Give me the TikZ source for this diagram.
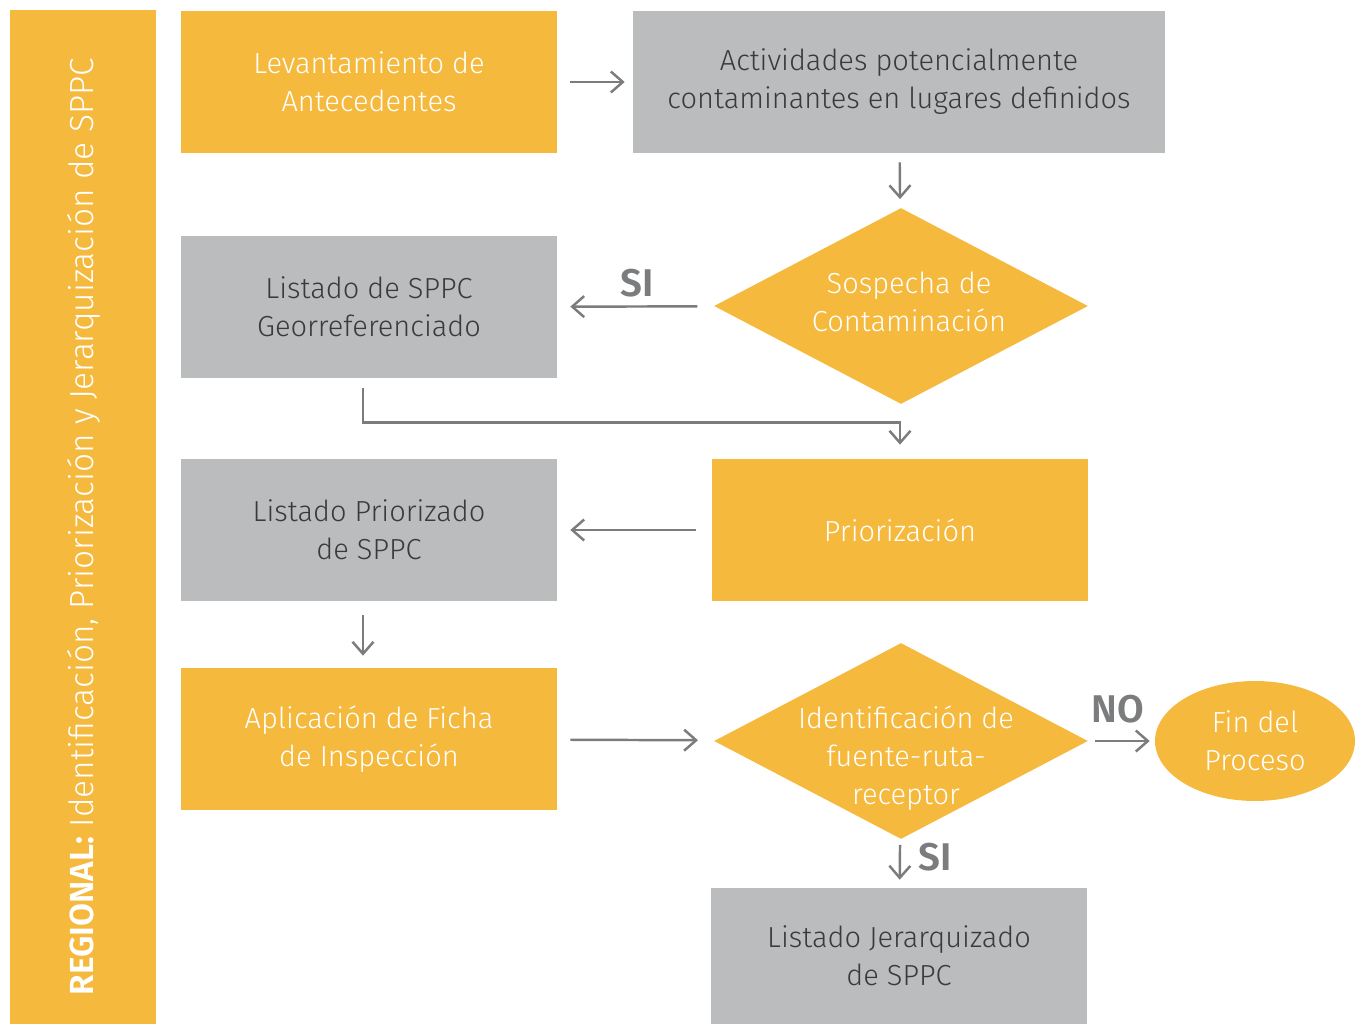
\documentclass[tikz,border=0pt]{standalone}
\usepackage{fontspec}
\setmainfont{Fira Sans}[UprightFont=* Light,BoldFont=* SemiBold]
\usetikzlibrary{shapes.geometric}
\usetikzlibrary{arrows.meta}
\definecolor{ambar}{HTML}{F4B93D}
\definecolor{gris}{HTML}{BBBCBE}
\definecolor{flecha}{HTML}{7A7C7D}
\definecolor{texto}{HTML}{3A3A3A}

\begin{document}
\begin{tikzpicture}[x=0.02cm,y=-0.02cm]
  \useasboundingbox (0,0) rectangle (1356,1024);
  \tikzstyle{every node}=[align=center,inner sep=0pt,font=\fontsize{16.5}{21.6}\selectfont]
  \tikzstyle{yellowbox}=[rectangle,fill=ambar,text=white,minimum width=7.52cm,minimum height=2.84cm]
  \tikzstyle{greybox}=[rectangle,fill=gris,text=texto,minimum width=7.52cm,minimum height=2.84cm]
  \tikzstyle{decision}=[diamond,aspect=1.9,fill=ambar,minimum width=7.48cm,minimum height=3.92cm]
  \tikzstyle{flow}=[flecha,line width=1.4pt,-{Straight Barb[length=0.24cm,width=0.42cm]}]
  \tikzstyle{answer}=[text=flecha,font=\fontsize{22}{22}\selectfont\bfseries]

%% left band
  \node[rectangle,fill=ambar,minimum width=2.92cm,minimum height=20.28cm] (band) at (83,517) {};
  \node[rotate=90,text=white,font=\fontsize{19}{19}\selectfont] (bandtxt) at (84,527)
    {\textbf{REGIONAL:} Identificación, Priorización y Jerarquización de SPPC};

%% process nodes
  \node[yellowbox] (lev)       at (369,82)  {Levantamiento de\\Antecedentes};
  \node[greybox,minimum width=10.64cm] (act) at (899,82) {Actividades potencialmente\\contaminantes en lugares definidos};
  \node[decision]  (sospecha)  at (901,306) {};
  \node[text=white] (sospechatxt) at (909,302) {Sospecha de\\Contaminación};
  \node[greybox]   (listgeo)   at (369,307) {Listado de SPPC\\Georreferenciado};
  \node[yellowbox] (prior)     at (900,530) {Priorización};
  \node[greybox]   (listprior) at (369,530) {Listado Priorizado\\de SPPC};
  \node[yellowbox] (ficha)     at (369,739) {Aplicación de Ficha\\de Inspección};
  \node[decision]  (ident)     at (901,741) {};
  \node[text=white] (identtxt) at (906,758) {Identificación de\\fuente-ruta-\\receptor};
  \node[ellipse,fill=ambar,text=white,minimum width=4cm,minimum height=2.4cm] (fin) at (1255,741) {Fin del\\Proceso};
  \node[greybox,minimum height=2.72cm] (listjer) at (899,956) {Listado Jerarquizado\\de SPPC};

%% connections (gaps in px)
  \foreach \a/\b/\s/\e in {lev/act/13/8, sospecha/listgeo/17/13, prior/listprior/16/13,
                           ficha/ident/13/17, ident/fin/7/5, act/sospecha/9/9, ident/listjer/6/8}
    \draw[flow,shorten <=\s*0.02cm,shorten >=\e*0.02cm] (\a) -- (\b);
  \draw[flow,shorten <=14*0.02cm,shorten >=12*0.02cm] ([xshift=-0.12cm]listprior.south) -- ([xshift=-0.12cm]ficha.north);
  \draw[flow,shorten <=10*0.02cm,shorten >=14*0.02cm] ([xshift=-0.12cm]listgeo.south) -- ++(0,44) -| (prior.north);

%% answers
  \node[answer] (si1) at (637,283) {SI};
  \node[answer] (no)  at (1118,709) {NO};
  \node[answer] (si2) at (935,857) {SI};
\end{tikzpicture}
\end{document}
